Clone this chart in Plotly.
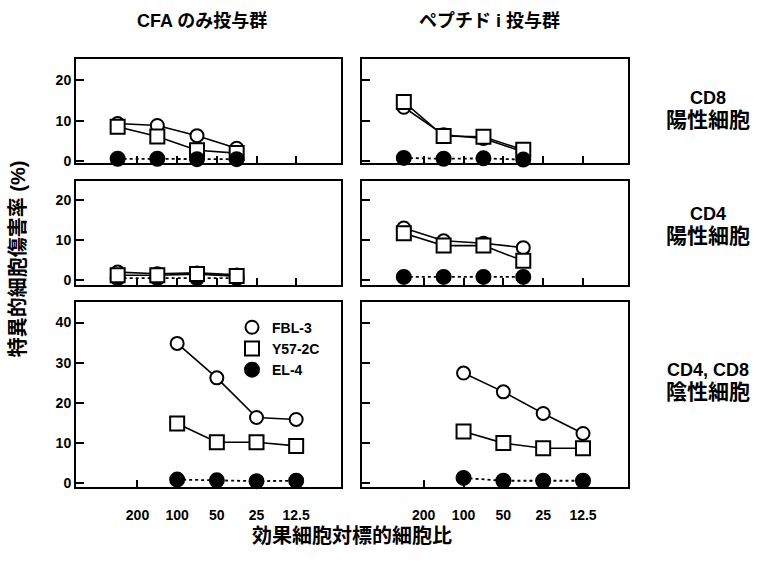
import plotly.graph_objects as go

# Effector : target ratio tick labels (positions 1..5 on the x axis)
ratio_labels = ["200", "100", "50", "25", "12.5"]
ratio_ticks = [1, 2, 3, 4, 5]

# x positions of the measured points
pos_upper = [0.5, 1.5, 2.5, 3.5]   # CD8+ and CD4+ rows
pos_lower = [2, 3, 4, 5]           # CD4-, CD8- row (100, 50, 25, 12.5)

# Specific cytotoxicity (%) -- CFA only group
cfa_cd8_fbl = [9.3, 8.8, 6.3, 3.2]
cfa_cd8_y57 = [8.5, 6.1, 2.7, 2.0]
cfa_cd8_el4 = [0.6, 0.6, 0.5, 0.5]
cfa_cd4_fbl = [2.0, 1.6, 1.8, 1.3]
cfa_cd4_y57 = [1.2, 1.2, 1.5, 1.0]
cfa_cd4_el4 = [0.5, 0.5, 0.5, 0.5]
cfa_neg_fbl = [34.8, 26.2, 16.3, 15.8]
cfa_neg_y57 = [14.8, 10.1, 10.1, 9.2]
cfa_neg_el4 = [0.8, 0.6, 0.4, 0.5]

# Specific cytotoxicity (%) -- peptide i group
pep_cd8_fbl = [13.3, 6.5, 5.6, 2.3]
pep_cd8_y57 = [14.6, 6.2, 6.0, 2.8]
pep_cd8_el4 = [0.8, 0.6, 0.7, 0.4]
pep_cd4_fbl = [13.0, 9.8, 9.2, 8.1]
pep_cd4_y57 = [11.7, 8.6, 8.6, 4.8]
pep_cd4_el4 = [0.8, 0.8, 0.8, 0.8]
pep_neg_fbl = [27.4, 22.7, 17.3, 12.3]
pep_neg_y57 = [12.8, 9.9, 8.6, 8.6]
pep_neg_el4 = [1.2, 0.5, 0.5, 0.5]

series_names = ["FBL-3", "Y57-2C", "EL-4"]
group_titles = ["CFA のみ投与群", "ペプチド i 投与群"]
row_labels = [("CD8", "陽性細胞"), ("CD4", "陽性細胞"), ("CD4, CD8", "陰性細胞")]
y_title = "特異的細胞傷害率 (%)"
x_title = "効果細胞対標的細胞比"

FONT = "Liberation Sans, Arial, Noto Sans CJK JP, sans-serif"
W, H = 757, 562

panels = [
    # (row, col, x, fbl, y57, el4, draw order)
    (0, 0, pos_upper, cfa_cd8_fbl, cfa_cd8_y57, cfa_cd8_el4, ["fbl", "y57", "el4"]),
    (0, 1, pos_upper, pep_cd8_fbl, pep_cd8_y57, pep_cd8_el4, ["fbl", "y57", "el4"]),
    (1, 0, pos_upper, cfa_cd4_fbl, cfa_cd4_y57, cfa_cd4_el4, ["el4", "fbl", "y57"]),
    (1, 1, pos_upper, pep_cd4_fbl, pep_cd4_y57, pep_cd4_el4, ["fbl", "y57", "el4"]),
    (2, 0, pos_lower, cfa_neg_fbl, cfa_neg_y57, cfa_neg_el4, ["fbl", "y57", "el4"]),
    (2, 1, pos_lower, pep_neg_fbl, pep_neg_y57, pep_neg_el4, ["fbl", "y57", "el4"]),
]

row_domains = [[1 - 165 / H, 1 - 60 / H], [1 - 288 / H, 1 - 183 / H], [1 - 492 / H, 1 - 305 / H]]
col_domains = [[76 / W, 341 / W], [362 / W, 628 / W]]
y_ranges = [[-0.5, 25.1], [-1.2, 24.7], [-1.0, 45.2]]
y_tickvals = [[0, 10, 20], [0, 10, 20], [0, 10, 20, 30, 40]]
x_range = [-0.55, 6.13]

styles = {
    "fbl": dict(name=series_names[0], symbol="circle", size=13, fill="white",
                line=dict(color="black", width=1.6, dash="solid")),
    "y57": dict(name=series_names[1], symbol="square", size=14, fill="white",
                line=dict(color="black", width=1.6, dash="solid")),
    "el4": dict(name=series_names[2], symbol="circle", size=14, fill="black",
                line=dict(color="black", width=1.8, dash="dot")),
}

fig = go.Figure()
layout = {}

for i, (r, c, xs, fbl, y57, el4, order) in enumerate(panels):
    n = i + 1
    xa = "x" if n == 1 else f"x{n}"
    ya = "y" if n == 1 else f"y{n}"
    vals = {"fbl": fbl, "y57": y57, "el4": el4}
    for key in order:
        st = styles[key]
        fig.add_trace(go.Scatter(
            x=xs, y=vals[key], mode="lines+markers", name=st["name"],
            showlegend=False, line=st["line"],
            marker=dict(symbol=st["symbol"], size=st["size"], color=st["fill"],
                        line=dict(color="black", width=2)),
            xaxis=xa, yaxis=ya, cliponaxis=False,
        ))
    axis_common = dict(showline=True, linecolor="black", linewidth=2, mirror=True,
                       ticks="inside", tickcolor="black", tickwidth=2,
                       showgrid=False, zeroline=False, fixedrange=True)
    layout["xaxis" if n == 1 else f"xaxis{n}"] = dict(
        axis_common, domain=col_domains[c], range=x_range, ticklen=7,
        tickvals=ratio_ticks, ticktext=ratio_labels, showticklabels=(r == 2),
        ticklabelstandoff=14,
        tickfont=dict(family=FONT, size=14, color="black", weight="bold"),
        anchor=ya)
    layout["yaxis" if n == 1 else f"yaxis{n}"] = dict(
        axis_common, domain=row_domains[r], range=y_ranges[r], ticklen=8,
        tickvals=y_tickvals[r], showticklabels=(c == 0),
        tickfont=dict(family=FONT, size=14, color="black", weight="bold"),
        anchor=xa)

# Marker-only legend entries (the key inside the lower-left panel)
for key in ["fbl", "y57", "el4"]:
    st = styles[key]
    fig.add_trace(go.Scatter(
        x=[None], y=[None], mode="markers", name=st["name"], showlegend=True,
        marker=dict(symbol=st["symbol"], size=st["size"], color=st["fill"],
                    line=dict(color="black", width=2)),
        xaxis="x5", yaxis="y5",
    ))

annotations = []
for c, title in enumerate(group_titles):
    annotations.append(dict(text=f"<b>{title}</b>", x=(col_domains[c][0] + col_domains[c][1]) / 2 - 6 / W,
                            y=1 - 21 / H, xref="paper", yref="paper", showarrow=False,
                            xanchor="center", yanchor="middle",
                            font=dict(family=FONT, size=18, color="black")))
row_centers = [111, 228, 386]
for r, (top, bottom) in enumerate(row_labels):
    annotations.append(dict(text=f"<b>{top}</b><br><b><span style='font-size:21px'>{bottom}</span></b>",
                            x=708 / W, y=1 - row_centers[r] / H,
                            xref="paper", yref="paper", showarrow=False,
                            xanchor="center", yanchor="middle",
                            font=dict(family=FONT, size=18, color="black")))
annotations.append(dict(text=f"<b>{y_title}</b>", x=18 / W, y=1 - 262 / H, textangle=-90,
                        xref="paper", yref="paper", showarrow=False,
                        xanchor="center", yanchor="middle",
                        font=dict(family=FONT, size=20, color="black")))
annotations.append(dict(text=f"<b>{x_title}</b>", x=352 / W, y=1 - 542 / H,
                        xref="paper", yref="paper", showarrow=False,
                        xanchor="center", yanchor="middle",
                        font=dict(family=FONT, size=20, color="black")))

fig.update_layout(
    **layout,
    annotations=annotations,
    width=W, height=H,
    margin=dict(l=0, r=0, t=0, b=0),
    paper_bgcolor="white", plot_bgcolor="white",
    showlegend=True,
    legend=dict(x=232 / W, y=1 - 315 / H, xanchor="left", yanchor="top",
                bgcolor="rgba(0,0,0,0)", borderwidth=0, tracegroupgap=0,
                itemclick=False, itemdoubleclick=False,
                font=dict(family=FONT, size=14, color="black", weight="bold")),
)

fig.write_html("out.html")
